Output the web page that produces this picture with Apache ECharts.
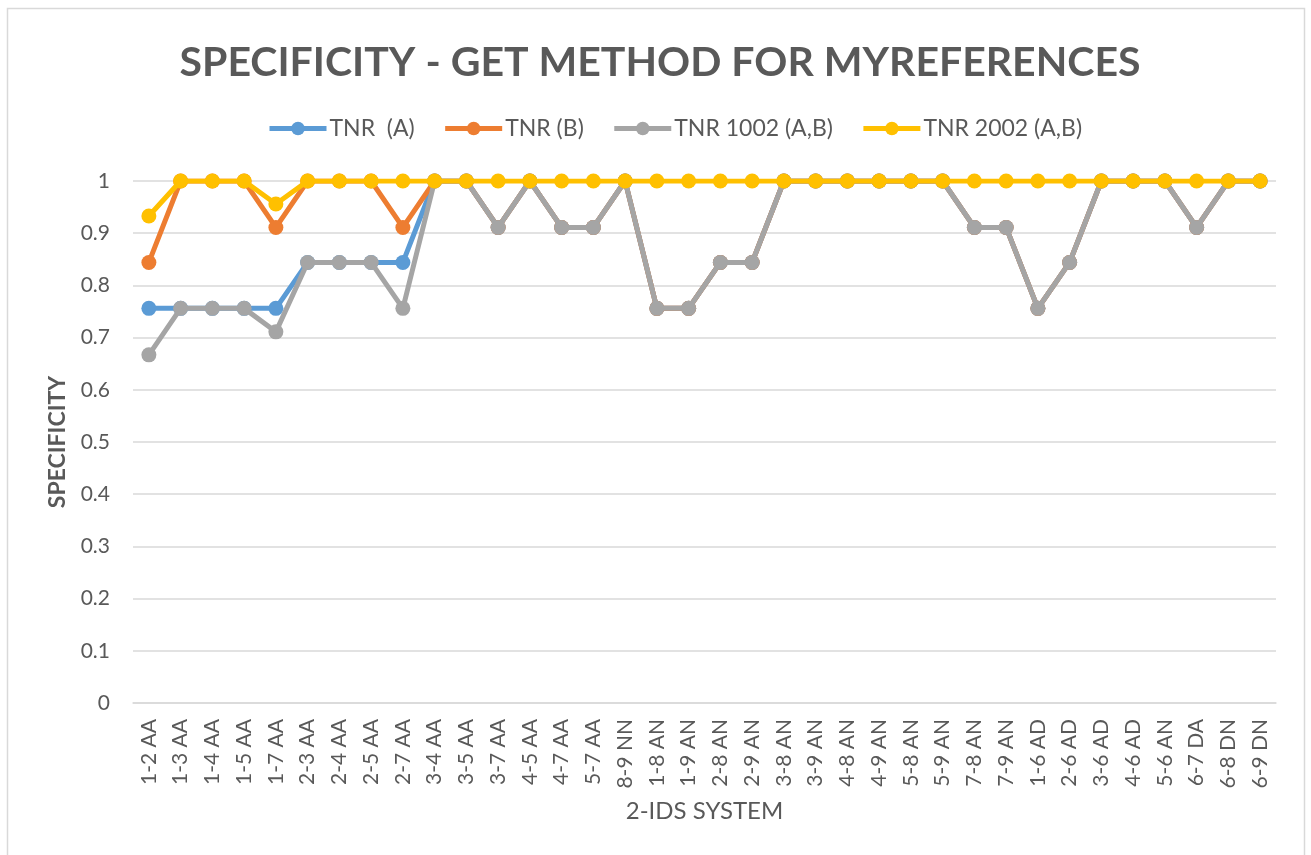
<!DOCTYPE html>
<html>
<head>
<meta charset="utf-8">
<script src="https://cdn.jsdelivr.net/npm/echarts@6/dist/echarts.min.js"></script>
<style>
  html, body { margin: 0; padding: 0; background: #fff; }
  #chart { width: 1311px; height: 855px; }
</style>
</head>
<body>
<div id="chart"></div>
<script>
// 2-IDS system pairs along the x axis
const categories = [
  '1-2 AA', '1-3 AA', '1-4 AA', '1-5 AA', '1-7 AA', '2-3 AA', '2-4 AA', '2-5 AA', '2-7 AA',
  '3-4 AA', '3-5 AA', '3-7 AA', '4-5 AA', '4-7 AA', '5-7 AA', '8-9 NN', '1-8 AN', '1-9 AN',
  '2-8 AN', '2-9 AN', '3-8 AN', '3-9 AN', '4-8 AN', '4-9 AN', '5-8 AN', '5-9 AN', '7-8 AN',
  '7-9 AN', '1-6 AD', '2-6 AD', '3-6 AD', '4-6 AD', '5-6 AN', '6-7 DA', '6-8 DN', '6-9 DN'
];

const tnrA = [
  0.756, 0.756, 0.756, 0.756, 0.756, 0.844, 0.844, 0.844, 0.844,
  1, 1, 0.911, 1, 0.911, 0.911, 1, 0.756, 0.756,
  0.844, 0.844, 1, 1, 1, 1, 1, 1, 0.911,
  0.911, 0.756, 0.844, 1, 1, 1, 0.911, 1, 1
];

const tnrB = [
  0.844, 1, 1, 1, 0.911, 1, 1, 1, 0.911,
  1, 1, 0.911, 1, 0.911, 0.911, 1, 0.756, 0.756,
  0.844, 0.844, 1, 1, 1, 1, 1, 1, 0.911,
  0.911, 0.756, 0.844, 1, 1, 1, 0.911, 1, 1
];

const tnr1002 = [
  0.667, 0.756, 0.756, 0.756, 0.711, 0.844, 0.844, 0.844, 0.756,
  1, 1, 0.911, 1, 0.911, 0.911, 1, 0.756, 0.756,
  0.844, 0.844, 1, 1, 1, 1, 1, 1, 0.911,
  0.911, 0.756, 0.844, 1, 1, 1, 0.911, 1, 1
];

const tnr2002 = [
  0.933, 1, 1, 1, 0.956, 1, 1, 1, 1,
  1, 1, 1, 1, 1, 1, 1, 1, 1,
  1, 1, 1, 1, 1, 1, 1, 1, 1,
  1, 1, 1, 1, 1, 1, 1, 1, 1
];

const seriesNames = ['TNR  (A)', 'TNR (B)', 'TNR 1002 (A,B)', 'TNR 2002 (A,B)'];
const seriesColors = ['#5b9bd5', '#ed7d31', '#a5a5a5', '#ffc000'];
const seriesData = [tnrA, tnrB, tnr1002, tnr2002];

const FONT = 'Lato, "Open Sans", sans-serif';
const TEXT = '#595959';

const chart = echarts.init(document.getElementById('chart'), null, { renderer: 'canvas' });

chart.setOption({
  backgroundColor: '#ffffff',
  animation: false,
  graphic: [{
    type: 'rect',
    shape: { x: 7.5, y: 8.5, width: 1297, height: 870 },
    style: { fill: 'none', stroke: '#d9d9d9', lineWidth: 1.5 },
    silent: true
  }],
  title: {
    text: 'SPECIFICITY - GET METHOD FOR MYREFERENCES',
    left: 655,
    textAlign: 'center',
    top: 37,
    textStyle: { fontFamily: FONT, fontWeight: 'bold', fontSize: 41, color: TEXT }
  },
  legend: {
    top: 117,
    left: 267,
    padding: 0,
    itemWidth: 57,
    itemHeight: 17,
    itemGap: 28,
    lineStyle: { width: 5 },
    textStyle: { fontFamily: FONT, fontSize: 23, color: TEXT, padding: [0, 0, 0, -2] },
    data: seriesNames
  },
  grid: { left: 133, right: 35, top: 181, bottom: 152, containLabel: false },
  xAxis: {
    type: 'category',
    data: categories,
    name: '2-IDS SYSTEM',
    nameLocation: 'middle',
    nameGap: 96,
    nameTextStyle: { fontFamily: FONT, fontSize: 24, color: TEXT },
    axisLine: { show: true, lineStyle: { color: '#d9d9d9', width: 1.5 } },
    axisTick: { show: false },
    axisLabel: { rotate: 90, margin: 16, fontFamily: FONT, fontSize: 21, color: TEXT }
  },
  yAxis: {
    type: 'value',
    min: 0,
    max: 1,
    interval: 0.1,
    name: 'SPECIFICITY',
    nameLocation: 'middle',
    nameGap: 64,
    nameTextStyle: { fontFamily: FONT, fontSize: 23, fontWeight: 'bold', color: TEXT },
    axisLine: { show: false },
    axisTick: { show: false },
    splitLine: { lineStyle: { color: '#d9d9d9', width: 1.5 } },
    axisLabel: {
      margin: 23,
      fontFamily: FONT,
      fontSize: 21,
      color: TEXT,
      formatter: v => String(Math.round(v * 10) / 10)
    }
  },
  series: seriesNames.map((name, i) => ({
    name: name,
    type: 'line',
    data: seriesData[i],
    color: seriesColors[i],
    symbol: 'circle',
    symbolSize: 15,
    showAllSymbol: true,
    lineStyle: { width: 5, color: seriesColors[i] },
    itemStyle: { color: seriesColors[i] },
    z: 2 + i
  }))
});
</script>
</body>
</html>
